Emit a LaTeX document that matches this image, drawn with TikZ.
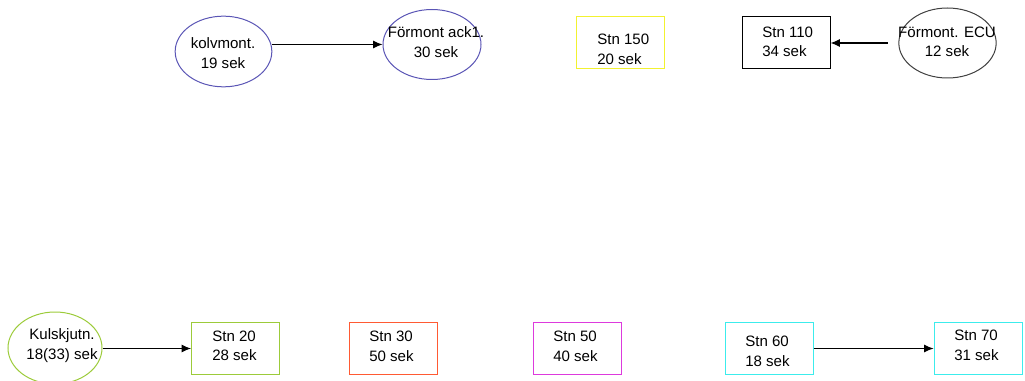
\documentclass[tikz,border=0pt]{standalone}
\usepackage{fontspec}
\setmainfont{Liberation Sans}
\usetikzlibrary{shapes.geometric,arrows.meta}
\definecolor{ovalblue}{HTML}{5A55B5}
\definecolor{ovalgrey}{HTML}{404040}
\definecolor{stnyellow}{HTML}{F2F230}
\definecolor{stngreen}{HTML}{9CCB3A}
\definecolor{stnorange}{HTML}{FF5A33}
\definecolor{stnmagenta}{HTML}{DD3ADD}
\definecolor{stncyan}{HTML}{3CECEC}
\begin{document}
\begin{tikzpicture}[x=0.75pt,y=-0.75pt,
  every node/.style={font=\fontsize{11.3}{14.6}\selectfont},
  oval/.style={ellipse,draw=#1,line width=0.75pt,inner sep=0pt},
  stnbox/.style={rectangle,draw=#1,line width=0.75pt,inner sep=0pt,
    minimum width=66pt,minimum height=38.5pt},
  lbl/.style={align=center,inner sep=0pt},
  boxlbl/.style={align=left,inner sep=0pt,anchor=west},
  flow/.style={-{Latex[length=7pt,width=6pt]},line width=0.8pt}]
\useasboundingbox (0,0) rectangle (1025,381);

% top row
\node[oval=ovalblue,minimum width=72.5pt,minimum height=53pt] (kolv) at (223.5,51.5) {};
\node[lbl] (kolvt) at (223,53) {kolvmont.\\19 sek};
\node[oval=ovalblue,minimum width=73.5pt,minimum height=52.5pt] (ack) at (432,44.5) {};
\node[lbl] (ackt) at (436,42) {Förmont ack1.\\30 sek};

\node[stnbox=stnyellow] (s150) at (620.5,42.5) {};
\node[boxlbl] (s150t) at (597,49.5) {Stn 150\\20 sek};
\node[stnbox=black] (s110) at (786,42.5) {};
\node[boxlbl] (s110t) at (762,42) {Stn 110\\34 sek};

\node[oval=ovalgrey,minimum width=73pt,minimum height=52.5pt] (ecu) at (947.5,43) {};
\node[lbl] (ecut) at (947,42) {Förmont. ECU\\12 sek};

% bottom row
\node[oval=stngreen,minimum width=70.5pt,minimum height=54pt] (kul) at (55,348) {};
\node[lbl] (kult) at (62,345.5) {Kulskjutn.\\18(33) sek};

\node[stnbox=stngreen] (s20) at (235.5,348.5) {};
\node[boxlbl] (s20t) at (212,346) {Stn 20\\28 sek};
\node[stnbox=stnorange] (s30) at (393,348.5) {};
\node[boxlbl] (s30t) at (369,346.5) {Stn 30\\50 sek};
\node[stnbox=stnmagenta] (s50) at (577,348.5) {};
\node[boxlbl] (s50t) at (553,346.5) {Stn 50\\40 sek};
\node[stnbox=stncyan] (s60) at (769,348.5) {};
\node[boxlbl] (s60t) at (745,351.5) {Stn 60\\18 sek};
\node[stnbox=stncyan] (s70) at (978,348.5) {};
\node[boxlbl] (s70t) at (954,345.5) {Stn 70\\31 sek};

% connectors
\draw[flow] (kolv.east |- ack.west) -- (ack.west);
\draw[flow,shorten <=8pt] (ecu.west) -- (s110.east |- ecu.west);
\draw[flow] (kul.east |- s20.west) -- (s20.west);
\draw[flow] (s60.east) -- (s70.west);
\end{tikzpicture}
\end{document}
